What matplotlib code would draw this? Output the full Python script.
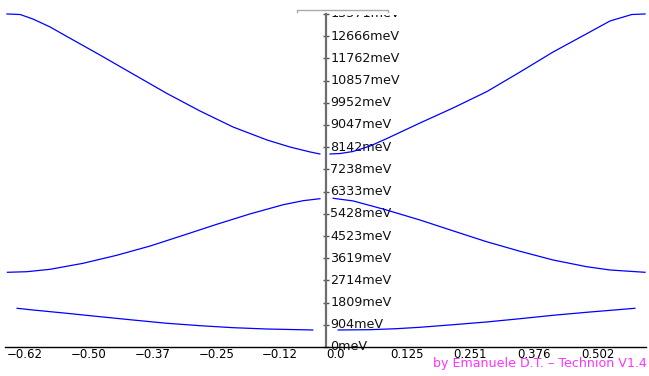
import matplotlib
matplotlib.use("Agg")
import matplotlib.pyplot as plt
from matplotlib.transforms import offset_copy, Bbox

# wave vector (1/A) and energy (meV), left and right halves
band1_left_k = [-0.608, -0.577, -0.510, -0.445, -0.380, -0.313, -0.248, -0.183, -0.116, -0.026]
band1_left_e = [1577, 1508, 1373, 1235, 1100, 966, 868, 787, 733, 693]
band1_right_k = [0.024, 0.087, 0.139, 0.185, 0.251, 0.316, 0.382, 0.447, 0.513, 0.608]
band1_right_e = [693, 705, 746, 803, 909, 1019, 1153, 1292, 1414, 1577]

band2_left_k = [-0.627, -0.589, -0.543, -0.478, -0.412, -0.346, -0.281, -0.215, -0.150, -0.084, -0.045, -0.012]
band2_left_e = [3044, 3068, 3166, 3411, 3737, 4116, 4552, 5000, 5420, 5799, 5962, 6043]
band2_right_k = [0.014, 0.054, 0.119, 0.185, 0.251, 0.316, 0.382, 0.447, 0.513, 0.559, 0.628]
band2_right_e = [6060, 5950, 5583, 5175, 4727, 4291, 3900, 3545, 3272, 3138, 3044]

band3_left_k = [-0.628, -0.602, -0.577, -0.543, -0.510, -0.445, -0.380, -0.313, -0.248,
                -0.183, -0.116, -0.071, -0.031, -0.012]
band3_left_e = [13571, 13549, 13366, 13040, 12653, 11899, 11125, 10330, 9617,
                8965, 8435, 8150, 7946, 7865]
band3_right_k = [0.008, 0.028, 0.053, 0.087, 0.120, 0.185, 0.250, 0.317, 0.382,
                 0.447, 0.514, 0.559, 0.602, 0.628]
band3_right_e = [7865, 7885, 7966, 8191, 8496, 9128, 9739, 10412, 11206,
                 12021, 12775, 13285, 13549, 13571]

x_ticks = [-0.628, -0.503, -0.377, -0.251, -0.126, 0.0, 0.126, 0.251, 0.377, 0.503]
x_labels = ["\u22120.62", "\u22120.50", "\u22120.37", "\u22120.25", "\u22120.12",
            "0.0", "0.125", "0.251", "0.376", "0.502"]
y_ticks = [0, 904, 1809, 2714, 3619, 4523, 5428, 6333, 7238, 8142,
           9047, 9952, 10857, 11762, 12666, 13571]
y_labels = [f"{v}meV" for v in y_ticks]

credit = "by Emanuele D.T. \u2013 Technion V1.4"

fig = plt.figure(figsize=(6.49, 3.76), dpi=100)
ax = fig.add_axes([0, 0, 1, 1])
ax.set_xlim(-0.6417, 0.6358)
ax.set_ylim(-1182, 14140)

for k, e in [(band1_left_k, band1_left_e), (band1_right_k, band1_right_e),
             (band2_left_k, band2_left_e), (band2_right_k, band2_right_e),
             (band3_left_k, band3_left_e), (band3_right_k, band3_right_e)]:
    ax.plot(k, e, color="#0000ff", lw=0.9, zorder=3)

for s in ["top", "right"]:
    ax.spines[s].set_visible(False)
ax.spines["left"].set_position(("data", 0))
ax.spines["left"].set_bounds(0, y_ticks[-1])
ax.spines["left"].set_color("#6e6e6e")
ax.spines["left"].set_linewidth(1.6)
ax.spines["bottom"].set_position(("data", 0))
ax.spines["bottom"].set_bounds(-0.632, 0.630)
ax.spines["bottom"].set_color("black")
ax.spines["bottom"].set_linewidth(1.0)

ax.set_xticks(x_ticks, x_labels)
ax.tick_params(axis="x", length=0, pad=0.8, labelsize=8.5)
for lbl in ax.get_xticklabels():
    lbl.set_horizontalalignment("left")

ax.set_yticks(y_ticks)
ax.set_yticklabels([])
ax.tick_params(axis="y", direction="inout", length=4, width=1, color="#555555")

# the top label is cut off in the original
clip = Bbox([[0, 0], [649, 376 - 14.5]])
trans = offset_copy(ax.transData, fig=fig, x=3, y=0, units="points")
for v, lab in zip(y_ticks, y_labels):
    t = ax.text(0, v, lab, transform=trans, ha="left", va="center",
                fontsize=9.2, color="#111111", zorder=2)
    t.set_clip_box(clip)
    t.set_clip_on(True)

# little grey bracket at the top
ax.plot([0.4576, 0.4576, 0.598, 0.598], [0.968, 0.973, 0.973, 0.968],
        transform=ax.transAxes, color="#aaaaaa", lw=1, clip_on=False)

fig.text(0.997, 0.024, credit, ha="right", va="baseline",
         fontsize=9.1, color="#ff33ff")

fig.savefig("out.png", dpi=100)
